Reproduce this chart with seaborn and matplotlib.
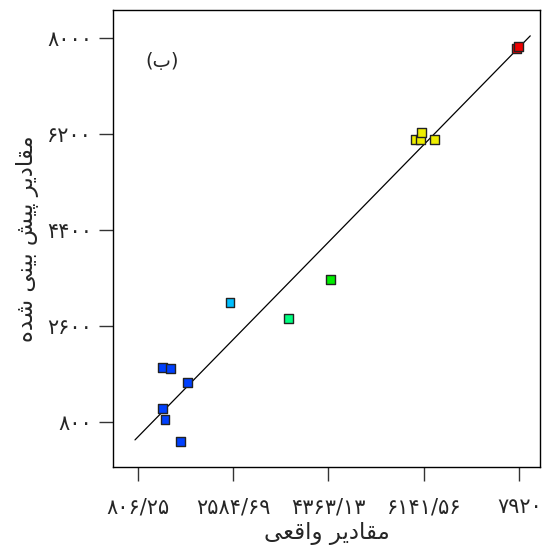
import matplotlib
matplotlib.use("Agg")
import matplotlib.pyplot as plt
import seaborn as sns
import pandas as pd

# ---- data ----
actual = [1272, 1422, 1739, 1272, 1315, 1601, 2528, 3616, 4407,
          5975, 6074, 6093, 6341, 7865, 7910]
predicted = [1822, 1795, 1527, 1044, 832, 432, 3035, 2742, 3461,
             6090, 6090, 6227, 6090, 7812, 7843]
group = ["g1", "g1", "g1", "g1", "g1", "g1", "g2", "g3", "g4",
         "g5", "g5", "g5", "g5", "g6", "g6"]
line_x = [756, 8125]
line_y = [456, 8043]

x_ticks = [806.25, 2584.69, 4363.13, 6141.56, 7920]
x_tick_labels = ["۸۰۶/۲۵", "۲۵۸۴/۶۹", "۴۳۶۳/۱۳", "۶۱۴۱/۵۶", "۷۹۲۰"]
y_ticks = [800, 2600, 4400, 6200, 8000]
y_tick_labels = ["۸۰۰", "۲۶۰۰", "۴۴۰۰", "۶۲۰۰", "۸۰۰۰"]

# Persian texts written in pre-shaped (visual order) Arabic presentation forms
x_label = "\uFEF0\uFECC\uFED7\uFE8D\uFEED \uFEAE\uFEF3\uFEA9\uFE8E\uFED8\uFEE3"          # مقادیر واقعی
y_label = ("\uFEE9\uFEAA\uFEB7 \uFEF0\uFEE8\uFEF4\uFE91 \uFEB6\uFEF4\uFB58 "
           "\uFEAE\uFEF3\uFEA9\uFE8E\uFED8\uFEE3")                                         # مقادیر پیش بینی شده
panel_label = "(\uFE8F)"                                                                   # (ب)

palette = {"g1": "#0040ff", "g2": "#00bfff", "g3": "#00ff80",
           "g4": "#00ee00", "g5": "#eeee00", "g6": "#ee0000"}

df = pd.DataFrame({"actual": actual, "predicted": predicted, "group": group})

sns.set_theme(style="ticks")
plt.rcParams["font.family"] = ["DejaVu Sans"]

fig = plt.figure(figsize=(5.43, 5.48), dpi=100)
ax = fig.add_axes([0.208, 0.148, 0.787, 0.834])

sns.lineplot(x=line_x, y=line_y, ax=ax, color="black", linewidth=0.9)
sns.scatterplot(data=df, x="actual", y="predicted", hue="group", palette=palette,
                marker="s", s=40, edgecolor="#222222", linewidth=1.0,
                legend=False, ax=ax, zorder=3)

ax.set_xlim(345, 8312)
ax.set_ylim(-51, 8531)
ax.set_xticks(x_ticks)
ax.set_xticklabels(x_tick_labels, fontsize=15)
ax.set_yticks(y_ticks)
ax.set_yticklabels(y_tick_labels, fontsize=15)
ax.tick_params(axis="both", direction="out", length=10, width=1, color="#333333")
ax.tick_params(axis="x", pad=12)
ax.tick_params(axis="y", pad=5)
for sp in ax.spines.values():
    sp.set_visible(True)
    sp.set_color("black")
    sp.set_linewidth(1)

ax.set_xlabel(x_label, fontsize=16.5, labelpad=3)
ax.set_ylabel(y_label, fontsize=16.5, labelpad=6)
ax.text(0.075, 0.888, panel_label, transform=ax.transAxes, fontsize=14,
        va="center")

fig.savefig("out.png", dpi=100)
